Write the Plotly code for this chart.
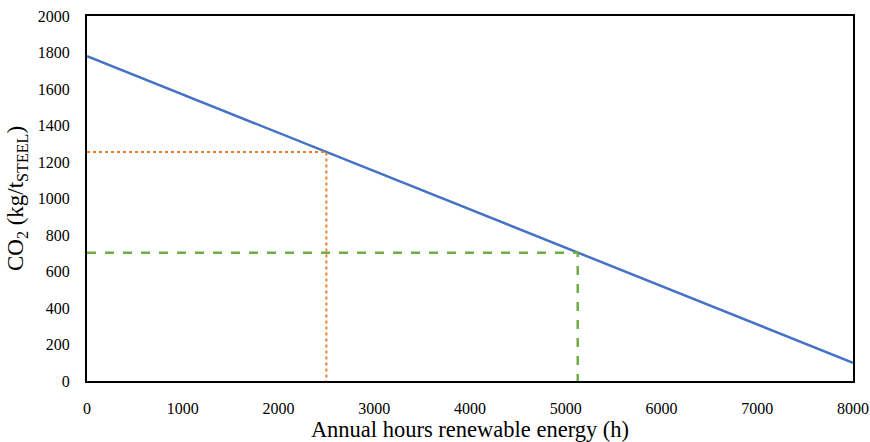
import plotly.graph_objects as go

hours = [0, 8000]
co2 = [1780, 100]
orange_x = 2500
orange_y = 1255
green_x = 5125
green_y = 703

fig = go.Figure()
fig.add_trace(go.Scatter(x=hours, y=co2, mode="lines",
                         line=dict(color="#4472C4", width=2.5), showlegend=False))
fig.add_trace(go.Scatter(x=[0, orange_x, orange_x], y=[orange_y, orange_y, 0], mode="lines",
                         line=dict(color="#ED7D31", width=2, dash="dot"), showlegend=False))
fig.add_trace(go.Scatter(x=[0, green_x, green_x], y=[green_y, green_y, 0], mode="lines",
                         line=dict(color="#70AD47", width=2.5, dash="dash"), showlegend=False))

font = "Times New Roman, Liberation Serif, serif"
fig.update_layout(
    width=870, height=442,
    margin=dict(l=87, r=17, t=16, b=61),
    plot_bgcolor="white", paper_bgcolor="white",
    font=dict(family=font, color="black", size=16),
    xaxis=dict(range=[0, 8000], tickvals=list(range(0, 8001, 1000)),
               showgrid=False, zeroline=False, showline=True, linecolor="black",
               linewidth=2, mirror=True, ticks="outside", ticklen=12, tickcolor="rgba(0,0,0,0)",
               automargin=False, ticklabeloverflow="allow",
               title=dict(text="Annual hours renewable energy (h)", font=dict(family=font, size=22.5), standoff=4),
               tickfont=dict(family=font, size=16, color="black")),
    yaxis=dict(range=[0, 2000], tickvals=list(range(0, 2001, 200)),
               showgrid=False, zeroline=False, showline=True, linecolor="black",
               linewidth=2, mirror=True, ticks="outside", ticklen=12, tickcolor="rgba(0,0,0,0)",
               automargin=False, ticklabeloverflow="allow",
               title=dict(text="CO<sub>2</sub> (kg/t<sub>STEEL</sub>)", font=dict(family=font, size=23), standoff=8),
               tickfont=dict(family=font, size=16, color="black")),
)
fig.write_html("out.html", config={"displayModeBar": False},
               post_script="document.body.style.margin='0';document.body.style.overflow='hidden';")
